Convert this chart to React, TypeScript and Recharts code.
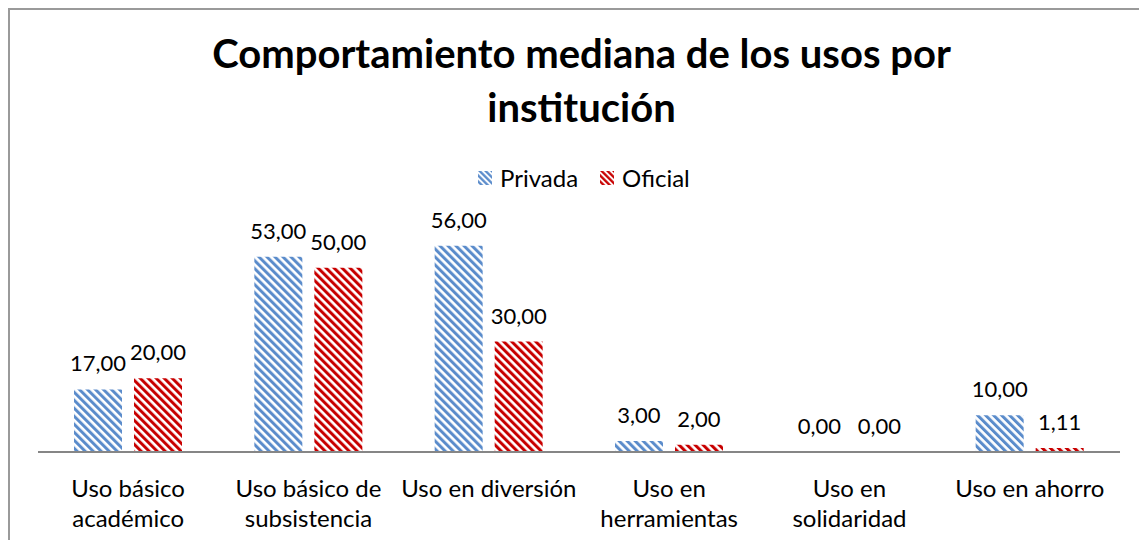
import React from 'react';
import { BarChart, Bar, XAxis, YAxis, LabelList } from 'recharts';

const categories = [
  'Uso básico académico',
  'Uso básico de subsistencia',
  'Uso en diversión',
  'Uso en herramientas',
  'Uso en solidaridad',
  'Uso en ahorro',
];
const tickLines: string[][] = [
  ['Uso básico', 'académico'],
  ['Uso básico de', 'subsistencia'],
  ['Uso en diversión'],
  ['Uso en', 'herramientas'],
  ['Uso en', 'solidaridad'],
  ['Uso en ahorro'],
];
const privada = [17, 53, 56, 3, 0, 10];
const oficial = [20, 50, 30, 2, 0, 1.11];
const seriesNames = ['Privada', 'Oficial'];
const title = ['Comportamiento mediana de los usos por', 'institución'];

const data = categories.map((c, i) => ({ name: c, idx: i, privada: privada[i], oficial: oficial[i] }));

const FONT = 'Lato, "Open Sans", sans-serif';
const BLUE = '#5B8CCB';
const RED = '#C80000';

const fmt = (v: any) => Number(v).toFixed(2).replace('.', ',');

const Patterns = ({ prefix }: { prefix: string }) => (
  <defs>
    <pattern id={`${prefix}Blue`} patternUnits="userSpaceOnUse" width="5.66" height="5.66" patternTransform="rotate(-45)">
      <rect width="5.66" height="5.66" fill="#ffffff" />
      <rect width="3" height="5.66" fill={BLUE} />
    </pattern>
    <pattern id={`${prefix}Red`} patternUnits="userSpaceOnUse" width="5.66" height="5.66" patternTransform="rotate(-45)">
      <rect width="5.66" height="5.66" fill="#ffffff" />
      <rect width="3" height="5.66" fill={RED} />
    </pattern>
  </defs>
);

const Tick = (props: any) => {
  const { x, y, payload } = props;
  const lines = tickLines[payload.index] || [String(payload.value)];
  return (
    <text x={x} y={y} textAnchor="middle" fontFamily={FONT} fontSize={24} fill="#000">
      {lines.map((l, i) => (
        <tspan key={i} x={x} y={y + 37 + i * 30}>{l}</tspan>
      ))}
    </text>
  );
};

const ValueLabel = (props: any) => {
  const { x, y, width, height, value } = props;
  if (x == null || y == null) return null;
  const top = Math.min(Number(y), Number(y) + Number(height || 0));
  return (
    <text
      x={Number(x) + Number(width) / 2}
      y={top - 18}
      textAnchor="middle"
      fontFamily={FONT}
      fontSize={22}
      fill="#000"
    >
      {fmt(value)}
    </text>
  );
};

const Swatch = ({ id, color }: { id: string; color: string }) => (
  <svg width={14} height={14} style={{ display: 'inline-block', verticalAlign: 'middle' }}>
    <defs>
      <pattern id={id} patternUnits="userSpaceOnUse" width="4.24" height="4.24" patternTransform="rotate(-45)">
        <rect width="4.24" height="4.24" fill="#ffffff" />
        <rect width="2.3" height="4.24" fill={color} />
      </pattern>
    </defs>
    <rect width={14} height={14} fill={`url(#${id})`} />
  </svg>
);

export default function App() {
  return (
    <div
      style={{
        position: 'relative',
        width: 1139,
        height: 532,
        borderLeft: '2px solid #9a9a9a',
        borderTop: '2px solid #9a9a9a',
        boxSizing: 'border-box',
        fontFamily: FONT,
        background: '#fff',
      }}
    >
      <div
        style={{
          position: 'absolute',
          left: 8,
          width: 1127,
          top: 16,
          textAlign: 'center',
          fontWeight: 700,
          fontSize: 40,
          lineHeight: '54px',
          color: '#000',
        }}
      >
        <div>{title[0]}</div>
        <div>{title[1]}</div>
      </div>
      <div
        style={{
          position: 'absolute',
          left: 468,
          top: 152,
          fontSize: 24,
          lineHeight: '26px',
          color: '#000',
          whiteSpace: 'nowrap',
        }}
      >
        <Swatch id="lgBlue" color={BLUE} />
        <span style={{ marginLeft: 8, verticalAlign: 'middle' }}>{seriesNames[0]}</span>
        <span style={{ display: 'inline-block', width: 22 }} />
        <Swatch id="lgRed" color={RED} />
        <span style={{ marginLeft: 8, verticalAlign: 'middle' }}>{seriesNames[1]}</span>
      </div>
      <BarChart
        width={1137}
        height={530}
        data={data}
        margin={{ top: 221, right: 27, bottom: 0, left: 28 }}
        barGap={12}
        barSize={48}
      >
        <Patterns prefix="bar" />
        <YAxis hide domain={[0, 60]} />
        <XAxis
          dataKey="name"
          height={88}
          axisLine={{ stroke: '#868686', strokeWidth: 2 }}
          tickLine={false}
          tick={<Tick />}
          interval={0}
        />
        <Bar dataKey="privada" name={seriesNames[0]} fill="url(#barBlue)" minPointSize={0.001} isAnimationActive={false}>
          <LabelList dataKey="privada" content={<ValueLabel />} />
        </Bar>
        <Bar dataKey="oficial" name={seriesNames[1]} fill="url(#barRed)" minPointSize={0.001} isAnimationActive={false}>
          <LabelList dataKey="oficial" content={<ValueLabel />} />
        </Bar>
      </BarChart>
    </div>
  );
}
